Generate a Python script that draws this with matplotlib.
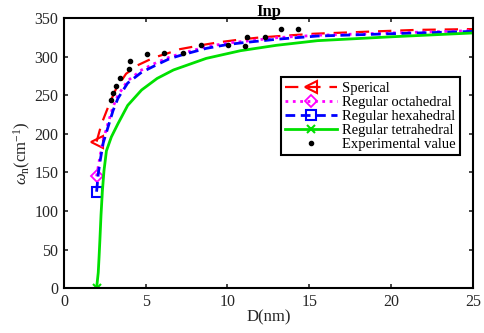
import matplotlib
matplotlib.use('Agg')
import matplotlib.pyplot as plt

plt.rcParams['font.family'] = ['Liberation Serif', 'DejaVu Serif']
plt.rcParams['mathtext.fontset'] = 'custom'
plt.rcParams['mathtext.rm'] = 'Liberation Serif'
plt.rcParams['mathtext.it'] = 'Liberation Serif:italic'

# values
d_sph = [2.0, 2.3, 2.8, 3.2, 3.8, 4.5, 5.5, 6.4, 7.1, 8.5, 9.5, 10.6, 11.9, 13.2, 15.3, 19.0, 21.6, 25.0]
w_sph = [190, 213, 240, 259, 278, 289, 299, 305, 310, 315.5, 319, 322, 325, 327, 330, 333, 335, 336]

d_oct = [2.0, 2.2, 2.4, 2.7, 3.0, 3.3, 3.9, 4.75, 5.7, 6.5, 7.3, 8.7, 10.0, 11.0, 13.1, 15.5, 20.0, 25.0]
w_oct = [145, 170, 192, 214, 235, 250, 269, 283, 293, 300, 305, 313, 318, 320, 325, 328, 331, 334]

d_hex = [2.0, 2.1, 2.2, 2.4, 2.7, 3.0, 3.3, 3.9, 4.75, 5.7, 6.5, 7.3, 8.7, 10.0, 11.0, 13.1, 15.5, 20.0, 25.0]
w_hex = [125, 148, 163, 188, 209, 230, 246, 266, 280, 290, 298, 303, 311, 316, 318.5, 323, 327, 330, 333]

d_tet = [2.0, 2.1, 2.15, 2.2, 2.27, 2.35, 2.45, 2.6, 2.9, 3.3, 3.9, 4.75, 5.7, 6.7, 8.7, 10.8, 13.0, 15.5, 20.0, 25.0]
w_tet = [0, 20, 40, 62, 95, 125, 152, 178, 196, 213, 237, 257, 272, 283, 298, 308, 315, 321, 326, 331]

d_exp = [2.85, 3.0, 3.2, 3.4, 4.0, 4.05, 5.05, 6.1, 7.3, 8.4, 10.05, 11.05, 11.2, 12.3, 13.25, 14.3]
w_exp = [244, 253, 262, 273, 284, 294, 304, 305, 305, 315, 316, 314, 326, 326, 336, 336]

fig = plt.figure(figsize=(4.84, 3.33), dpi=100)
ax = fig.add_axes([0.132, 0.135, 0.845, 0.81])

ax.plot(d_sph, w_sph, '--', color='red', lw=1.6, dashes=(6, 4), marker='<', ms=8,
        mfc='none', mew=1.5, markevery=[0], label='Sperical')
ax.plot(d_oct, w_oct, ':', color='magenta', lw=2, marker='D', ms=6,
        mfc='none', mew=1.3, markevery=[0], label='Regular octahedral')
ax.plot(d_hex, w_hex, '--', color='blue', lw=2, dashes=(3.5, 2), marker='s', ms=7,
        mfc='none', mew=1.5, markevery=[0], label='Regular hexahedral')
ax.plot(d_tet, w_tet, '-', color='#00e000', lw=2, marker='x', ms=6,
        mew=1.5, markevery=[0], label='Regular tetrahedral')
ax.plot(d_exp, w_exp, '.', color='black', ms=6, label='Experimental value')

ax.set_xlim(0, 25)
ax.set_ylim(0, 350)
ax.set_xticks(range(0, 26, 5))
ax.set_yticks(range(0, 351, 50))
ax.tick_params(direction='in', top=True, right=True, labelsize=11.5, colors='#262626',
               length=3, width=1.2, pad=4)
for sp in ax.spines.values():
    sp.set_linewidth(1.5)
ax.set_xlabel('D(nm)', fontsize=12, color='#262626', labelpad=0)
ax.set_ylabel(r'$\omega_{\rm n}(\rm cm^{-1})$', fontsize=12, color='#262626', labelpad=1)
ax.set_title('Inp', fontsize=12, fontweight='bold', pad=2)

leg = ax.legend(loc='upper right', bbox_to_anchor=(0.968, 0.781), borderaxespad=0,
                fontsize=10.5, numpoints=1, handlelength=3.6, handletextpad=0.3,
                labelspacing=0.05, borderpad=0.3, fancybox=False, framealpha=1)
leg.get_frame().set_edgecolor('black')
leg.get_frame().set_linewidth(1.5)

fig.savefig('out.png', dpi=100)
